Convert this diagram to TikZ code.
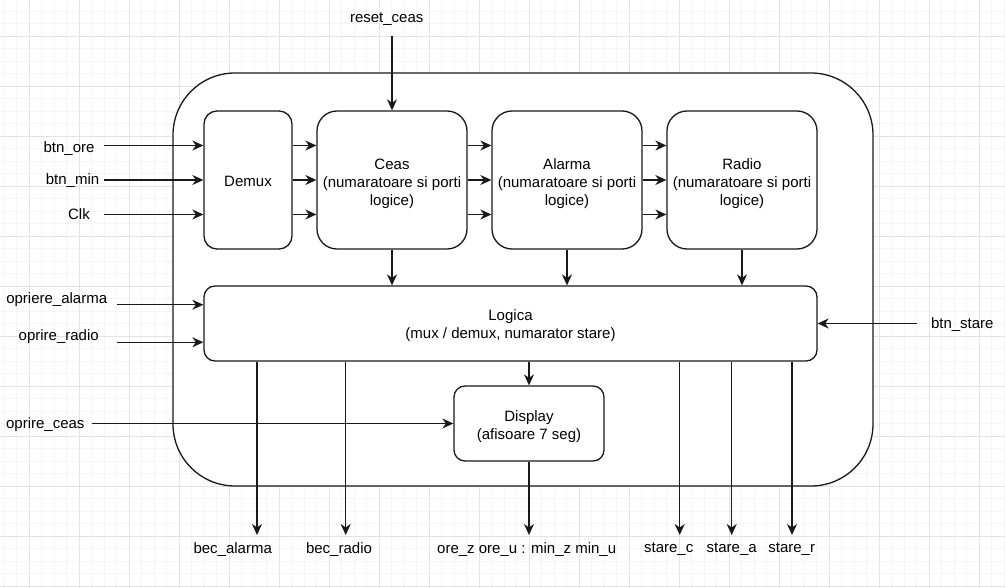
\documentclass[tikz,border=0pt]{standalone}
\usepackage{fontspec}
\setmainfont{Liberation Sans}
\usetikzlibrary{arrows.meta}
\begin{document}
\begin{tikzpicture}[x=1pt,y=-1pt,
  every node/.style={font=\fontsize{15}{18}\selectfont, text=black},
  line/.style={line width=1.3pt, draw=black!90},
  arr/.style={line, -{Stealth[length=11pt,width=10pt,inset=3.5pt]}},
  blk/.style={line, fill=white, inner sep=0pt, align=center},
  lbl/.style={inner sep=0pt, anchor=center},
  minorgrid/.style={draw=black!4, line width=0.8pt},
  majorgrid/.style={draw=black!11, line width=0.9pt}
]
\useasboundingbox (0,0) rectangle (1005,588);
\fill[white] (0,0) rectangle (1005,588);

% background grid: minor every 12.5 units, major every 50
\foreach \i in {0,...,80} {
  \draw[minorgrid] ({4.3+12.5*\i},0) -- ({4.3+12.5*\i},588);
}
\foreach \i in {0,...,47} {
  \draw[minorgrid] (0,{-1.5+12.5*\i}) -- (1005,{-1.5+12.5*\i});
}
\foreach \i in {0,...,20} {
  \draw[majorgrid] ({29.3+50*\i},0) -- ({29.3+50*\i},588);
}
\foreach \i in {0,...,11} {
  \draw[majorgrid] (0,{36+50*\i}) -- (1005,{36+50*\i});
}

% enclosing module
\node[blk, minimum width=700pt, minimum height=413pt, rounded corners=62pt] (outer) at (523,279.5) {};

% inner blocks
\node[blk, minimum width=88pt, minimum height=138pt, rounded corners=13pt] (demux) at (248,180) {};
\node[blk, minimum width=150pt, minimum height=138pt, rounded corners=20pt] (ceas) at (392,180) {};
\node[blk, minimum width=150pt, minimum height=138pt, rounded corners=20pt] (alarma) at (567,180) {};
\node[blk, minimum width=150pt, minimum height=138pt, rounded corners=20pt] (radio) at (742,180) {};
\node[blk, minimum width=613pt, minimum height=75pt, rounded corners=11pt] (logica) at (510.5,323.5) {};
\node[blk, minimum width=150pt, minimum height=75pt, rounded corners=11pt] (display) at (529,423.5) {};

% block captions
\node[lbl] (t_demux) at ([yshift=-1.5pt]demux.center) {Demux};
\node[lbl, align=center] (t_ceas) at ([yshift=-3.5pt]ceas.center) {Ceas\\(numaratoare si porti\\logice)};
\node[lbl, align=center] (t_alarma) at ([yshift=-3.5pt]alarma.center) {Alarma\\(numaratoare si porti\\logice)};
\node[lbl, align=center] (t_radio) at ([yshift=-3.5pt]radio.center) {Radio\\(numaratoare si porti\\logice)};
\node[lbl, align=center] (t_logica) at ([yshift=-2.5pt]logica.center) {Logica\\(mux / demux, numarator stare)};
\node[lbl, align=center] (t_display) at ([yshift=-3.5pt]display.center) {Display\\(afisoare 7 seg)};

% external signal labels
\node[lbl] (l_reset) at (386.7,19) {reset\_ceas};
\node[lbl] (l_ore) at (69,149) {btn\_ore};
\node[lbl] (l_min) at (72.5,180.5) {btn\_min};
\node[lbl] (l_clk) at (79,214) {Clk};
\node[lbl] (l_oalarma) at (56.7,299.5) {opriere\_alarma};
\node[lbl] (l_oradio) at (58.7,337) {oprire\_radio};
\node[lbl] (l_oceas) at (45.3,424.5) {oprire\_ceas};
\node[lbl] (l_stare) at (962.3,324.5) {btn\_stare};
\node[lbl] (l_becal) at (232.7,549.5) {bec\_alarma};
\node[lbl] (l_becrad) at (339,549.5) {bec\_radio};
\node[lbl] (l_disp) at (526.7,549.5) {ore\_z ore\_u : min\_z min\_u};
\node[lbl] (l_sc) at (668.7,549.5) {stare\_c};
\node[lbl] (l_sa) at (731.7,549.5) {stare\_a};
\node[lbl] (l_sr) at (791.7,549.5) {stare\_r};

% free ends of the connectors
\coordinate (c_reset) at (392,36);
\coordinate (c_ore) at (104,145.5);
\coordinate (c_min) at (104,180);
\coordinate (c_clk) at (104,214.5);
\coordinate (c_oal) at (116.7,304.75);
\coordinate (c_ora) at (116.7,342.25);
\coordinate (c_oce) at (91.7,423.5);
\coordinate (c_st) at (916.7,323.5);
\coordinate (o_becal) at (257,535);
\coordinate (o_becrad) at (345.7,535);
\coordinate (o_disp) at (529,535);
\coordinate (o_sc) at (679.7,535);
\coordinate (o_sa) at (731.7,535);
\coordinate (o_sr) at (792,535);

% inputs
\draw[arr] (c_reset) -- (ceas.north);
\draw[arr] (c_ore) -- (c_ore -| demux.west);
\draw[arr] (c_min) -- (c_min -| demux.west);
\draw[arr] (c_clk) -- (c_clk -| demux.west);
\draw[arr] (c_oal) -- (c_oal -| logica.west);
\draw[arr] (c_ora) -- (c_ora -| logica.west);
\draw[arr] (c_oce) -- (display.west);
\draw[arr] (c_st) -- (logica.east);

% chain of counters
\foreach \a/\b in {demux/ceas, ceas/alarma, alarma/radio} {
  \draw[arr] ([yshift=-34.5pt]\a.east) -- ([yshift=-34.5pt]\b.west);
  \draw[arr] (\a.east) -- (\b.west);
  \draw[arr] ([yshift=34.5pt]\a.east) -- ([yshift=34.5pt]\b.west);
}

% counters into the logic block, logic into the display
\draw[arr] (ceas.south) -- (ceas.south |- logica.north);
\draw[arr] (alarma.south) -- (alarma.south |- logica.north);
\draw[arr] (radio.south) -- (radio.south |- logica.north);
\draw[arr] (display.north |- logica.south) -- (display.north);

% outputs
\draw[arr] (o_becal |- logica.south) -- (o_becal);
\draw[arr] (o_becrad |- logica.south) -- (o_becrad);
\draw[arr] (display.south) -- (o_disp);
\draw[arr] (o_sc |- logica.south) -- (o_sc);
\draw[arr] (o_sa |- logica.south) -- (o_sa);
\draw[arr] (o_sr |- logica.south) -- (o_sr);
\end{tikzpicture}
\end{document}
